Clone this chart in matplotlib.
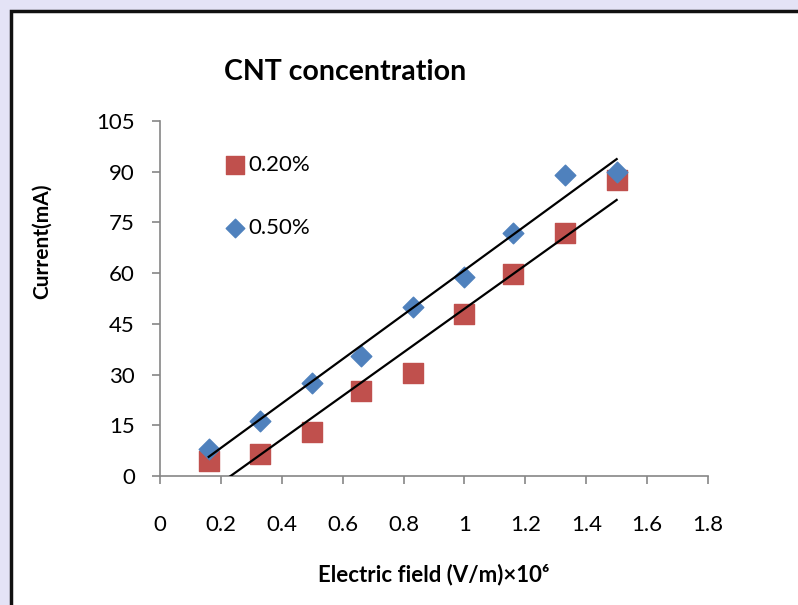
import numpy as np
import matplotlib.pyplot as plt
from matplotlib.patches import Rectangle

plt.rcParams['font.family'] = ['Lato', 'DejaVu Sans']

# Data
field = [0.16, 0.33, 0.5, 0.66, 0.83, 1.0, 1.16, 1.33, 1.5]
current_020 = [4.4, 6.5, 13, 25, 30.5, 48, 59.7, 72, 87.5]
current_050 = [8, 16.3, 27.5, 35.5, 50, 59, 72, 89, 90]
x_ticks = [0, 0.2, 0.4, 0.6, 0.8, 1, 1.2, 1.4, 1.6, 1.8]
y_ticks = [0, 15, 30, 45, 60, 75, 90, 105]

fig = plt.figure(figsize=(7.98, 6.05), dpi=100)
fig.patch.set_facecolor('#e4e3f6')

# white panel with black frame
W, H = 798, 605
fig.patches.append(Rectangle((11 / W, -0.1), 1.2, (605 - 11) / H + 0.1,
                             transform=fig.transFigure, facecolor='white',
                             edgecolor='#111111', linewidth=2.5, zorder=-5))

ax = fig.add_axes([160 / W, 129 / H, 548 / W, 355 / H])
ax.set_zorder(2)
ax.set_facecolor('none')

ax.scatter(field, current_020, marker='s', s=190, color='#c0504d',
           label='0.20%', zorder=3)
ax.scatter(field, current_050, marker='D', s=110, color='#4f81bd',
           label='0.50%', zorder=3)

# linear trend lines
xs = np.array([field[0], field[-1]])
for ys in (current_020, current_050):
    k, b = np.polyfit(field, ys, 1)
    ax.plot(xs, k * xs + b, color='black', linewidth=1.6, zorder=4)

ax.set_xlim(0, 1.8)
ax.set_ylim(0, 105)
ax.set_xticks(x_ticks)
ax.set_xticklabels([f'{t:g}' for t in x_ticks])
ax.set_yticks(y_ticks)

for side in ('top', 'right'):
    ax.spines[side].set_visible(False)
for side in ('left', 'bottom'):
    ax.spines[side].set_color('#868686')
    ax.spines[side].set_linewidth(1.2)
ax.tick_params(direction='out', length=6, width=1.2, color='#868686',
               labelsize=16)
ax.tick_params(axis='x', pad=22)
ax.tick_params(axis='y', pad=12)

ax.set_xlabel('Electric field (V/m)×10⁶', fontsize=16, fontweight='bold')
ax.xaxis.set_label_coords(0.5, -0.278)
ax.xaxis.label.set_va('center')
ax.set_ylabel('Current(mA)', fontsize=15, fontweight='bold')
ax.yaxis.set_label_coords(-0.215, 0.662)
ax.yaxis.label.set_va('center')
fig.text(345 / W, 1 - 72 / H, 'CNT concentration', fontsize=20.5,
         fontweight='bold', ha='center', va='center')

ax.legend(loc='upper left', bbox_to_anchor=(0.1, 0.93), frameon=False,
          fontsize=16, handletextpad=0.1, handlelength=1.0, labelspacing=1.95,
          markerscale=0.9, borderaxespad=0)

fig.savefig('out.png', dpi=100, facecolor=fig.get_facecolor())
